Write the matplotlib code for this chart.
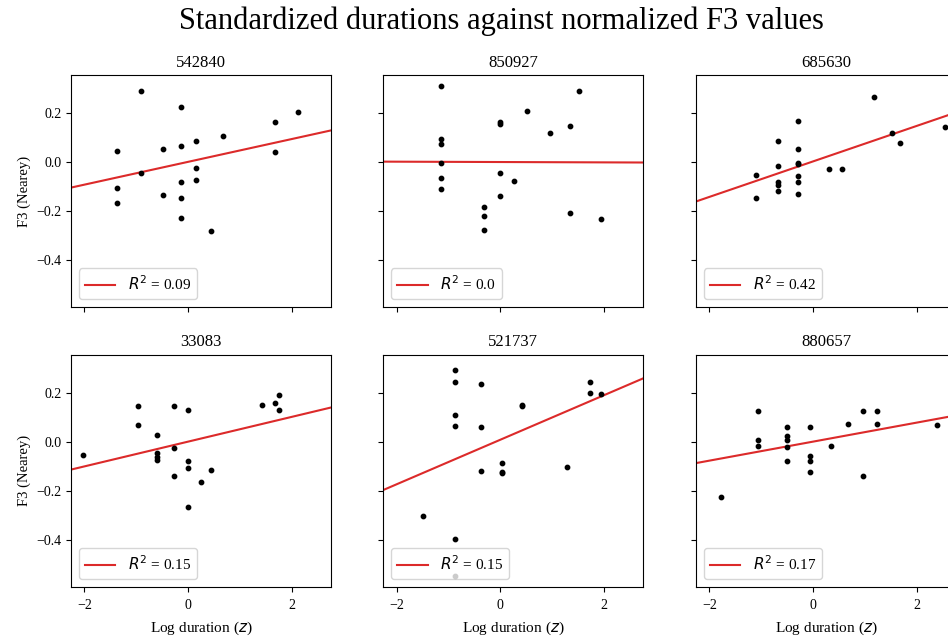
import numpy as np
import matplotlib
matplotlib.use("Agg")
import matplotlib.pyplot as plt

plt.rcParams['font.family'] = ['Liberation Serif', 'DejaVu Serif']
plt.rcParams['mathtext.fontset'] = 'dejavusans'

speakers = ["542840", "850927", "685630", "33083", "521737", "880657"]
r2_labels = ["0.09", "0.0", "0.42", "0.15", "0.15", "0.17"]

x_542840 = [-0.90, -0.13, 2.13, 1.68, 0.68, 0.16, -1.37, -0.49, -0.13, 1.68,
            -0.90, 0.16, 0.16, -0.13, -1.37, -0.49, -0.13, -1.37, -0.13, 0.44]
y_542840 = [0.291, 0.222, 0.204, 0.165, 0.108, 0.086, 0.047, 0.055, 0.065, 0.039,
            -0.045, -0.026, -0.074, -0.082, -0.104, -0.135, -0.147, -0.165, -0.226, -0.282]

x_850927 = [-1.14, -1.14, -1.14, -1.14, -1.14, -1.14, 1.51, 0.52, -0.01, -0.01,
            1.34, 0.96, -0.01, 0.27, -0.01, -0.32, -0.32, -0.32, 1.34, 1.94]
y_850927 = [0.308, 0.095, 0.074, -0.005, -0.065, -0.108, 0.291, 0.208, 0.162, 0.153,
            0.147, 0.118, -0.043, -0.078, -0.139, -0.182, -0.218, -0.278, -0.208, -0.230]

x_685630 = [1.18, -0.29, -0.67, -0.29, 2.54, 1.53, 1.67, -0.29, -0.29, -0.67,
            -1.10, 0.31, 0.55, -0.29, -0.67, -0.67, -0.29, -0.67, -0.29, -1.10]
y_685630 = [0.265, 0.169, 0.086, 0.055, 0.143, 0.118, 0.078, -0.002, -0.007, -0.018,
            -0.053, -0.030, -0.030, -0.057, -0.080, -0.093, -0.082, -0.116, -0.131, -0.147]

x_33083 = [-2.02, -0.97, -0.97, -0.60, -0.60, -0.60, -0.60, -0.27, -0.27, -0.27,
           0.00, 0.00, 0.00, 0.00, 0.25, 0.45, 1.43, 1.68, 1.75, 1.75]
y_33083 = [-0.055, 0.145, 0.070, 0.027, -0.046, -0.064, -0.074, 0.145, -0.026, -0.138,
           0.131, -0.077, -0.108, -0.264, -0.165, -0.116, 0.149, 0.157, 0.192, 0.131]

x_521737 = [-0.87, -0.87, -0.87, -0.87, -0.87, -0.87, -1.50, -0.37, -0.37, -0.37,
            0.04, 0.04, 0.04, 0.41, 0.41, 1.28, 1.74, 1.74, 1.95]
y_521737 = [0.291, 0.245, 0.109, 0.065, -0.395, -0.547, -0.303, 0.236, 0.061, -0.120,
            -0.086, -0.122, -0.128, 0.149, 0.145, -0.103, 0.245, 0.200, 0.196]

x_880657 = [-1.78, -1.07, -1.07, -1.07, -0.51, -0.51, -0.51, -0.51, -0.51, -0.06,
            -0.06, -0.06, -0.06, 0.34, 0.67, 0.96, 0.96, 1.23, 1.23, 2.39]
y_880657 = [-0.224, 0.123, 0.009, -0.016, 0.061, 0.024, 0.007, -0.020, -0.077, 0.061,
            -0.059, -0.077, -0.122, -0.016, 0.074, 0.127, -0.138, 0.127, 0.074, 0.070]

xs = [x_542840, x_850927, x_685630, x_33083, x_521737, x_880657]
ys = [y_542840, y_850927, y_685630, y_33083, y_521737, y_880657]

fig = plt.figure(figsize=(9.48, 6.41), dpi=100)
lefts = [0.0749, 0.4043, 0.7342]
bottoms = [0.521, 0.0847]
w, h = 0.2743, 0.3619

axes = []
for r in range(2):
    for c in range(3):
        kw = {}
        if axes:
            kw = dict(sharex=axes[0], sharey=axes[0])
        ax = fig.add_axes([lefts[c], bottoms[r], w, h], **kw)
        axes.append(ax)

for i, ax in enumerate(axes):
    x = np.array(xs[i])
    y = np.array(ys[i])
    ax.scatter(x, y, s=10, color='black', zorder=3)
    m, b = np.polyfit(x, y, 1)
    ax.axline((0, b), slope=m, color='#dc2a2a', lw=1.5,
              label=r'$R^2$' + ' = ' + r2_labels[i])
    ax.set_title(speakers[i], fontsize=12)
    ax.legend(loc='lower left', fontsize=11)
    r, c = divmod(i, 3)
    if c == 0:
        ax.set_ylabel('F3 (Nearey)', fontsize=10.5)
    else:
        ax.tick_params(labelleft=False)
    if r == 1:
        ax.set_xlabel(r'Log duration ($z$)', fontsize=11, labelpad=6)
    else:
        ax.tick_params(labelbottom=False)
    ax.tick_params(labelsize=10)
    ax.tick_params(axis='x', pad=5)

axes[0].set_xlim(-2.26, 2.76)
axes[0].set_ylim(-0.59, 0.354)
axes[0].set_xticks([-2, 0, 2])
axes[0].set_yticks([-0.4, -0.2, 0.0, 0.2])

fig.suptitle('Standardized durations against normalized F3 values', fontsize=22,
             x=0.5285, y=0.99)
fig.savefig('out.png', dpi=100)
